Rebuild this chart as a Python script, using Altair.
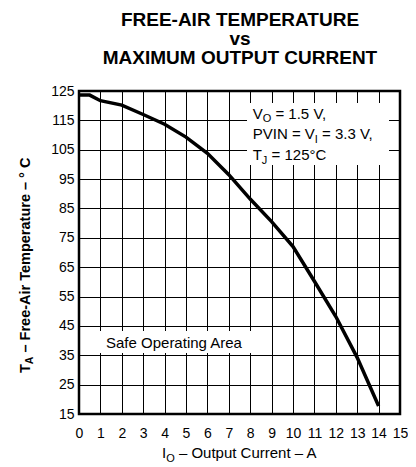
import altair as alt
import pandas as pd

# ---- data ----
current = [0, 0.5, 1, 2, 3, 4, 5, 6, 7, 8, 9, 10, 11, 12, 13, 14]
temperature = [123.6, 123.6, 121.7, 120.2, 117.0, 113.7, 109.3, 103.8, 96.5,
               88.2, 80.5, 72.0, 60.2, 48.2, 34.2, 17.7]
x_ticks = list(range(0, 16))
y_ticks = [15, 25, 35, 45, 55, 65, 75, 85, 95, 105, 115, 125]
title_lines = ["FREE-AIR TEMPERATURE", "vs", "MAXIMUM OUTPUT CURRENT"]
safe_label = "Safe Operating Area"
# annotation lines: (main, subscript, rest)
note_lines = [("V", "O", " = 1.5 V,"),
              ("PVIN = V", "I", " = 3.3 V,"),
              ("T", "J", " = 125°C")]
x_title = ("I", "O", " – Output Current – A")
y_title = ("T", "A", " – Free-Air Temperature – ° C")

FONT = "Liberation Sans"

# Arial / Liberation Sans advance widths (per 1000 em)
W_REG = {" ": 278, "=": 584, ".": 278, ",": 278, "V": 667, "O": 778, "P": 667,
         "I": 278, "N": 722, "T": 611, "J": 500, "A": 667, "C": 722}
for d in "0123456789":
    W_REG[d] = 556
W_BOLD = {"T": 611, "A": 722, " ": 278}


def tw(s, size, bold=False):
    table = W_BOLD if bold else W_REG
    return sum(table.get(c, 556) for c in s) * size / 1000.0


one = pd.DataFrame({"k": [0]})


def txt(s, x, y, size, bold=False, angle=0, align="left", line_height=None):
    kw = {}
    if line_height is not None:
        kw["lineHeight"] = line_height
    return alt.Chart(one).mark_text(
        text=s, fontSize=size, font=FONT,
        fontWeight="bold" if bold else "normal",
        align=align, baseline="alphabetic", angle=angle, color="black", **kw
    ).encode(x=alt.value(x), y=alt.value(y))


def rect(x1, x2, y1, y2):
    return alt.Chart(one).mark_rect(color="white", strokeWidth=0).encode(
        x=alt.value(x1), x2=alt.value(x2), y=alt.value(y1), y2=alt.value(y2))


def split_rest(rest, size, bold=False):
    """leading spaces are collapsed in SVG: turn them into an x offset"""
    stripped = rest.lstrip(" ")
    lead = rest[: len(rest) - len(stripped)]
    return stripped, tw(lead, size, bold)


df = pd.DataFrame({"I": current, "T": temperature})

curve = alt.Chart(df).mark_line(color="black", strokeWidth=3.5).encode(
    x=alt.X("I:Q", scale=alt.Scale(domain=[0, 15], nice=False, zero=False),
            axis=alt.Axis(values=x_ticks, title=None, labelPadding=12,
                          labelFlush=False, labelOverlap=False)),
    y=alt.Y("T:Q", scale=alt.Scale(domain=[15, 125], nice=False, zero=False),
            axis=alt.Axis(values=y_ticks, title=None, labelPadding=5,
                          labelFlush=False, labelOverlap=False)),
)

layers = [rect(168, 310, 12, 74), rect(20, 174, 240, 262), curve]

# title (one multi-line text)
layers.append(txt(title_lines, 161, -65, 19, bold=True, align="center",
                  line_height=19))

# annotation box text
NS, SS = 15, 11
for (main, sub, rest), yy in zip(note_lines, [27.5, 48.3, 69]):
    x0 = 173.7
    layers.append(txt(main, x0, yy, NS))
    x1 = x0 + tw(main, NS)
    layers.append(txt(sub, x1, yy + 3.5, SS))
    x2 = x1 + tw(sub, SS)
    r, off = split_rest(rest, NS)
    layers.append(txt(r, x2 + off, yy, NS))

layers.append(txt(safe_label, 27, 257.3, NS))

# x-axis title
xa = 83
xy = 367
layers.append(txt(x_title[0], xa, xy, 15))
xb = xa + tw(x_title[0], 15)
layers.append(txt(x_title[1], xb, xy + 3.5, 11))
xc = xb + tw(x_title[1], 11)
r, off = split_rest(x_title[2], 15)
layers.append(txt(r, xc + off, xy, 15))

# y-axis title (rotated)
YS, YSS = 14.5, 10.5
ya = 282
layers.append(txt(y_title[0], -49, ya, YS, bold=True, angle=270))
yb = ya - tw(y_title[0], YS, True)
layers.append(txt(y_title[1], -46, yb, YSS, bold=True, angle=270))
yc = yb - tw(y_title[1], YSS, True)
r, off = split_rest(y_title[2], YS, True)
layers.append(txt(r, -49, yc - off, YS, bold=True, angle=270))

chart = alt.layer(*layers).properties(
    width=321, height=323,
    autosize=alt.AutoSizeParams(type="none"),
    padding={"left": 71, "top": 83, "right": 8, "bottom": 52},
).configure_view(
    stroke="black", strokeWidth=2.5
).configure_axis(
    domain=False, ticks=False, grid=True, gridColor="black", gridWidth=1,
    gridOpacity=1, labelFont=FONT, labelFontSize=14, labelColor="black"
)

chart.save("out.html", embed_options={"renderer": "svg", "actions": False})
